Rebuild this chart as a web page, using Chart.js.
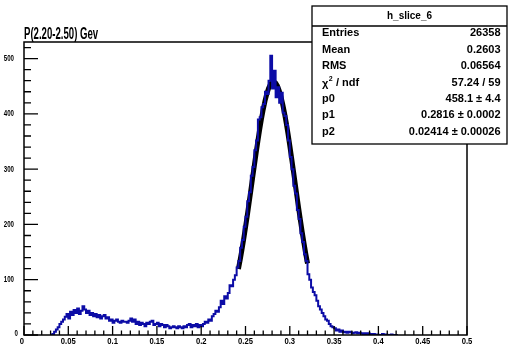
<!DOCTYPE html>
<html>
<head>
<meta charset="utf-8">
<script src="https://cdn.jsdelivr.net/npm/chart.js@4/dist/chart.umd.min.js"></script>
<style>
  html, body { margin: 0; padding: 0; background: #fff; }
  #wrap { width: 508px; height: 348px; }
</style>
</head>
<body>
<div id="wrap"><canvas id="myChart" width="508" height="348"></canvas></div>
<script>
"use strict";

// histogram h_slice_6, bins of 0.002 starting at 0.030
const binStart = 0.030;
const binWidth = 0.002;
const counts = [
	0, 0, 2, 6, 10, 14, 20, 24, 28, 33,
	38, 30, 42, 36, 45, 40, 48, 38, 44, 52,
	46, 40, 44, 36, 40, 34, 38, 32, 36, 30,
	34, 36, 30, 32, 26, 28, 22, 26, 28, 24,
	22, 26, 24, 24, 22, 26, 30, 24, 28, 20,
	24, 18, 22, 20, 16, 22, 20, 24, 26, 18,
	20, 22, 16, 20, 18, 14, 18, 16, 12, 14,
	16, 14, 12, 16, 14, 12, 16, 14, 18, 20,
	14, 18, 16, 20, 14, 18, 16, 20, 24, 22,
	28, 26, 34, 38, 44, 42, 50, 62, 56, 70,
	66, 76, 90, 88, 100, 108, 122, 134, 158, 172,
	196, 214, 242, 258, 288, 304, 334, 352, 390, 394,
	412, 418, 440, 436, 460, 505, 446, 478, 430, 448,
	420, 438, 402, 396, 380, 352, 322, 300, 270, 256,
	226, 210, 184, 168, 146, 134, 110, 100, 86, 78,
	72, 62, 52, 46, 40, 34, 28, 26, 20, 16,
	14, 12, 8, 10, 6, 8, 5, 6, 4, 6,
	5, 3, 4, 5, 3, 4, 3, 2, 3, 2,
	3, 2, 1, 2, 1, 1, 0, 0, 2, 0,
	1, 0, 0, 1, 0, 0
];

// gaus fit curve, drawn from 0.242 to 0.320
const fitStart = 0.242;
const fitStep = 0.002;
const fitValues = [
	119.3, 136.2, 154.4, 173.9, 194.5, 216.0, 238.3, 261.1, 284.1, 307.0,
	329.5, 351.2, 371.8, 390.9, 408.1, 423.3, 435.9, 445.9, 453.0, 457.1,
	458.0, 455.9, 450.5, 442.3, 431.2, 417.5, 401.5, 383.4, 363.7, 342.6,
	320.5, 297.9, 274.9, 251.9, 229.3, 207.3, 186.1, 166.0, 147.0, 129.3
];

const xTicks = [0, 0.05, 0.1, 0.15, 0.2, 0.25, 0.3, 0.35, 0.4, 0.45, 0.5];
const xTickLabels = ['0', '0.05', '0.1', '0.15', '0.2', '0.25', '0.3', '0.35', '0.4', '0.45', '0.5'];
const yTicks = [0, 100, 200, 300, 400, 500];
const yTickLabels = ['0', '100', '200', '300', '400', '500'];

const titleText = 'P(2.20-2.50) Gev';
const statsName = 'h_slice_6';
const statsLabels = ['Entries', 'Mean', 'RMS', 'chi2', 'p0', 'p1', 'p2'];
const statsValues = ['26358', '0.2603', '0.06564', '57.24 / 59', '458.1 \u00b1 4.4', '0.2816 \u00b1 0.0002', '0.02414 \u00b1 0.00026'];

const histPoints = counts.map((c, i) => ({ x: binStart + i * binWidth, y: c }));
histPoints.push({ x: binStart + counts.length * binWidth, y: 0 });
const fitPoints = fitValues.map((v, i) => ({ x: fitStart + i * fitStep, y: v }));

const FONT = '"Liberation Sans", Arial, sans-serif';

// ROOT style frame, inner ticks, labels, title and the stats box
const rootFrame = {
	id: 'rootFrame',
	afterDraw(chart) {
		const ctx = chart.ctx;
		const a = chart.chartArea;
		const xs = chart.scales.x;
		const ys = chart.scales.y;
		ctx.save();
		ctx.strokeStyle = '#000';
		ctx.lineWidth = 1.5;
		ctx.strokeRect(a.left, a.top, a.right - a.left, a.bottom - a.top);

		// x ticks
		ctx.lineWidth = 1.3;
		ctx.beginPath();
		for (let k = 0; k <= 50; k++) {
			const px = xs.getPixelForValue(k * 0.01);
			const len = (k % 5 === 0) ? 9 : 4.5;
			ctx.moveTo(px, a.bottom);
			ctx.lineTo(px, a.bottom - len);
		}
		// y ticks
		for (let v = 0; v <= 520; v += 20) {
			const py = ys.getPixelForValue(v);
			const len = (v % 100 === 0) ? 14 : 7;
			ctx.moveTo(a.left, py);
			ctx.lineTo(a.left + len, py);
		}
		ctx.stroke();

		ctx.fillStyle = '#000';
		ctx.font = 'bold 9px ' + FONT;
		ctx.textBaseline = 'middle';
		xTicks.forEach((t, i) => {
			const px = xs.getPixelForValue(t);
			ctx.save();
			ctx.textAlign = i === 0 ? 'right' : 'center';
			ctx.translate(px, a.bottom + 6.5);
			ctx.scale(0.85, 1);
			ctx.fillText(xTickLabels[i], 0, 0);
			ctx.restore();
		});
		yTicks.forEach((t, i) => {
			const py = ys.getPixelForValue(t);
			ctx.save();
			ctx.textAlign = 'right';
			if (i === 0) {
				ctx.translate(18, py - 1);
			} else {
				ctx.translate(14, py);
			}
			ctx.scale(0.68, 1);
			ctx.fillText(yTickLabels[i], 0, 0);
			ctx.restore();
		});

		// title
		ctx.save();
		ctx.font = 'bold 16px ' + FONT;
		ctx.textAlign = 'left';
		ctx.textBaseline = 'alphabetic';
		ctx.translate(24, 38.5);
		ctx.scale(0.6, 1);
		ctx.fillText(titleText, 0, 0);
		ctx.restore();

		// stats box
		const bx = 312, by = 6, bw = 195, bh = 138;
		ctx.fillStyle = '#fff';
		ctx.fillRect(bx, by, bw, bh);
		ctx.strokeStyle = '#000';
		ctx.lineWidth = 1.3;
		ctx.strokeRect(bx, by, bw, bh);
		ctx.beginPath();
		ctx.moveTo(bx, 26);
		ctx.lineTo(bx + bw, 26);
		ctx.stroke();
		ctx.fillStyle = '#000';
		ctx.font = 'bold 10px ' + FONT;
		ctx.textAlign = 'center';
		ctx.textBaseline = 'middle';
		ctx.fillText(statsName, bx + bw / 2, 16);

		ctx.font = 'bold 11px ' + FONT;
		statsLabels.forEach((lab, i) => {
			const ry = 33.3 + i * 16.4;
			ctx.textAlign = 'left';
			if (lab === 'chi2') {
				ctx.font = 'bold 11px ' + FONT;
				ctx.fillText('\u03c7', 322, ry + 1);
				const w = ctx.measureText('\u03c7').width;
				ctx.font = 'bold 7px ' + FONT;
				ctx.fillText('2', 322 + w + 0.5, ry - 3);
				ctx.font = 'bold 11px ' + FONT;
				ctx.fillText(' / ndf', 322 + w + 4.5, ry);
			} else {
				ctx.fillText(lab, 322, ry);
			}
			ctx.textAlign = 'right';
			ctx.fillText(statsValues[i], 500.5, ry);
		});
		ctx.restore();
	}
};

const config = {
	type: 'line',
	data: {
		datasets: [
			{
				label: statsName,
				data: histPoints,
				stepped: 'after',
				borderColor: '#0c0ca6',
				borderWidth: 2,
				pointRadius: 0,
				fill: false
			},
			{
				label: 'gaus',
				data: fitPoints,
				borderColor: '#000',
				borderWidth: 5,
				pointRadius: 0,
				tension: 0,
				fill: false
			}
		]
	},
	options: {
		responsive: false,
		animation: false,
		layout: { padding: { left: 24, right: 41, top: 42, bottom: 13 } },
		scales: {
			x: { type: 'linear', min: 0, max: 0.5, display: false },
			y: { type: 'linear', min: 0, max: 530, display: false }
		},
		plugins: {
			legend: { display: false },
			title: { display: false },
			tooltip: { enabled: false }
		}
	},
	plugins: [rootFrame]
};

const myChart = new Chart(document.getElementById('myChart'), config);
</script>
</body>
</html>
